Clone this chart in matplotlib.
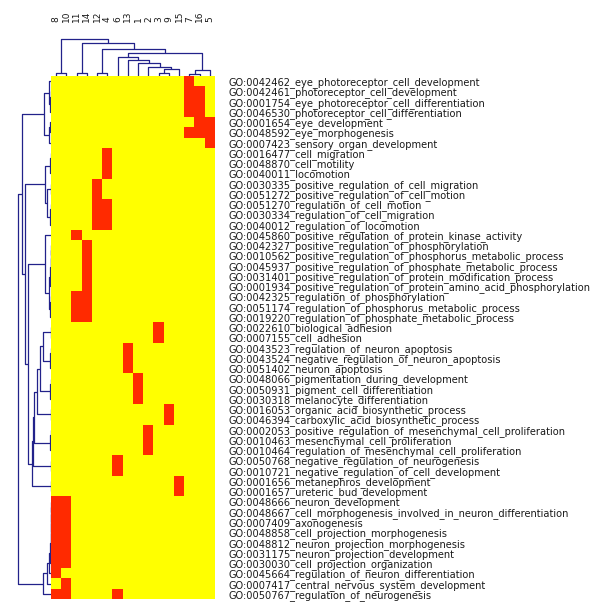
import numpy as np
import matplotlib
matplotlib.use("Agg")
import matplotlib.pyplot as plt
from matplotlib.colors import ListedColormap


# Columns (clusters) in dendrogram order, and GO terms (rows) top to bottom
col_labels = ["8", "10", "11", "14", "12", "4", "6", "13", "1", "2", "3", "9", "15", "7", "16", "5"]

row_labels = [
    "GO:0042462_eye_photoreceptor_cell_development",
    "GO:0042461_photoreceptor_cell_development",
    "GO:0001754_eye_photoreceptor_cell_differentiation",
    "GO:0046530_photoreceptor_cell_differentiation",
    "GO:0001654_eye_development",
    "GO:0048592_eye_morphogenesis",
    "GO:0007423_sensory_organ_development",
    "GO:0016477_cell_migration",
    "GO:0048870_cell_motility",
    "GO:0040011_locomotion",
    "GO:0030335_positive_regulation_of_cell_migration",
    "GO:0051272_positive_regulation_of_cell_motion",
    "GO:0051270_regulation_of_cell_motion",
    "GO:0030334_regulation_of_cell_migration",
    "GO:0040012_regulation_of_locomotion",
    "GO:0045860_positive_regulation_of_protein_kinase_activity",
    "GO:0042327_positive_regulation_of_phosphorylation",
    "GO:0010562_positive_regulation_of_phosphorus_metabolic_process",
    "GO:0045937_positive_regulation_of_phosphate_metabolic_process",
    "GO:0031401_positive_regulation_of_protein_modification_process",
    "GO:0001934_positive_regulation_of_protein_amino_acid_phosphorylation",
    "GO:0042325_regulation_of_phosphorylation",
    "GO:0051174_regulation_of_phosphorus_metabolic_process",
    "GO:0019220_regulation_of_phosphate_metabolic_process",
    "GO:0022610_biological_adhesion",
    "GO:0007155_cell_adhesion",
    "GO:0043523_regulation_of_neuron_apoptosis",
    "GO:0043524_negative_regulation_of_neuron_apoptosis",
    "GO:0051402_neuron_apoptosis",
    "GO:0048066_pigmentation_during_development",
    "GO:0050931_pigment_cell_differentiation",
    "GO:0030318_melanocyte_differentiation",
    "GO:0016053_organic_acid_biosynthetic_process",
    "GO:0046394_carboxylic_acid_biosynthetic_process",
    "GO:0002053_positive_regulation_of_mesenchymal_cell_proliferation",
    "GO:0010463_mesenchymal_cell_proliferation",
    "GO:0010464_regulation_of_mesenchymal_cell_proliferation",
    "GO:0050768_negative_regulation_of_neurogenesis",
    "GO:0010721_negative_regulation_of_cell_development",
    "GO:0001656_metanephros_development",
    "GO:0001657_ureteric_bud_development",
    "GO:0048666_neuron_development",
    "GO:0048667_cell_morphogenesis_involved_in_neuron_differentiation",
    "GO:0007409_axonogenesis",
    "GO:0048858_cell_projection_morphogenesis",
    "GO:0048812_neuron_projection_morphogenesis",
    "GO:0031175_neuron_projection_development",
    "GO:0030030_cell_projection_organization",
    "GO:0045664_regulation_of_neuron_differentiation",
    "GO:0007417_central_nervous_system_development",
    "GO:0050767_regulation_of_neurogenesis",
]

# clusters where each term is enriched (red cells), one list per row
hits = [
    ["7"],
    ["7", "16"],
    ["7", "16"],
    ["7", "16"],
    ["16", "5"],
    ["7", "16", "5"],
    ["5"],
    ["4"],
    ["4"],
    ["4"],
    ["12"],
    ["12"],
    ["12", "4"],
    ["12", "4"],
    ["12", "4"],
    ["11"],
    ["14"],
    ["14"],
    ["14"],
    ["14"],
    ["14"],
    ["11", "14"],
    ["11", "14"],
    ["11", "14"],
    ["3"],
    ["3"],
    ["13"],
    ["13"],
    ["13"],
    ["1"],
    ["1"],
    ["1"],
    ["9"],
    ["9"],
    ["2"],
    ["2"],
    ["2"],
    ["6"],
    ["6"],
    ["15"],
    ["15"],
    ["8", "10"],
    ["8", "10"],
    ["8", "10"],
    ["8", "10"],
    ["8", "10"],
    ["8", "10"],
    ["8", "10"],
    ["8"],
    ["10"],
    ["8", "10", "6"],
]

# column dendrogram: (left, right, merge height), leaves are cluster labels
col_tree = (("8", "10", 2.7),
            (("11", "14", 2.7),
             (("12", "4", 2.7),
              (("6", ("13", ("1", ("2", (("3", "9", 2.7), "15", 7.0), 9.3), 12.7), 16.0), 18.7),
               (("7", "16", 2.0), "5", 6.0), 23.3), 27.0), 32.7), 37.5)

# row dendrogram: leaves are row indices
eye = ((0, ((1, 2, 0.4), 3, 0.6), 2.0), ((4, 5, 1.5), 6, 2.5), 7.5)
migration = (((7, 8, 0.4), 9, 0.6), ((10, 11, 0.4), ((12, 13, 0.4), 14, 0.6), 4.0), 6.0)
phospho = (15, (((((16, 17, 0.3), 18, 0.4), 19, 0.5), 20, 0.6), ((21, 22, 0.4), 23, 0.6), 2.5), 6.0)
singles = (((((((24, 25, 0.4), ((26, 27, 0.4), 28, 0.6), 7.7), ((29, 30, 0.4), 31, 0.6), 11.0),
               (32, 33, 0.4), 14.3), ((34, 35, 0.4), 36, 0.6), 17.0), (37, 38, 0.4), 18.2),
           (39, 40, 0.4), 19.3)
neuron = ((((((((((41, 42, 0.3), 43, 0.35), 44, 0.4), 45, 0.45), 46, 0.5), 47, 0.55), 48, 1.7), 49, 4.0), 50, 8.0))
row_tree = ((eye, (migration, (phospho, singles, 22.7), 26.0), 29.3), neuron, 32.7)

YELLOW = "#ffff00"
RED = "#ff2a00"
LINE = "#22228a"


def draw_tree(ax, node, pos_of, top=True):
    # returns (position, height) of node, drawing its bracket
    if not isinstance(node, tuple):
        return pos_of(node), 0.0
    left, right, h = node
    pl, hl = draw_tree(ax, left, pos_of, top)
    pr, hr = draw_tree(ax, right, pos_of, top)
    xs, ys = [pl, pl, pr, pr], [hl, h, h, hr]
    if top:
        ax.plot(xs, ys, color=LINE, lw=0.9, solid_capstyle="butt")
    else:
        ax.plot(ys, xs, color=LINE, lw=0.9, solid_capstyle="butt")
    return (pl + pr) / 2, h


n_rows, n_cols = len(row_labels), len(col_labels)
mat = np.zeros((n_rows, n_cols))
for i, cols in enumerate(hits):
    for c in cols:
        mat[i, col_labels.index(c)] = 1

fig = plt.figure(figsize=(6, 6.12), dpi=100)
W, H = 600, 612

# Heatmap
ax = fig.add_axes([51 / W, (H - 599) / H, 164 / W, 523 / H])
ax.imshow(mat, cmap=ListedColormap([YELLOW, RED]), vmin=0, vmax=1, aspect="auto",
          interpolation="nearest", extent=(0, n_cols, n_rows, 0))
ax.set_xlim(0, n_cols)
ax.set_ylim(n_rows, 0)
ax.set_xticks([])
ax.yaxis.tick_right()
ax.set_yticks(np.arange(n_rows) + 0.5)
ax.set_yticklabels(row_labels, fontsize=7.1, color="#1a1a1a")
ax.tick_params(axis="y", length=0, pad=9.5)
for s in ax.spines.values():
    s.set_visible(False)

# Column dendrogram
ax_top = fig.add_axes([51 / W, (H - 76) / H, 164 / W, 40 / H])
draw_tree(ax_top, col_tree, lambda lab: col_labels.index(lab) + 0.5, top=True)
ax_top.set_xlim(0, n_cols)
ax_top.set_ylim(0, 40)
ax_top.axis("off")
for j, lab in enumerate(col_labels):
    ax_top.text(j + 0.5, 54, lab, rotation=90, ha="center", va="bottom",
                fontsize=6.5, color="#1a1a1a", clip_on=False)

# Row dendrogram
ax_left = fig.add_axes([0, (H - 599) / H, 51 / W, 523 / H])
draw_tree(ax_left, row_tree, lambda i: i + 0.5, top=False)
ax_left.set_xlim(51, 0)
ax_left.set_ylim(n_rows, 0)
ax_left.axis("off")

fig.savefig("out.png", dpi=100)
